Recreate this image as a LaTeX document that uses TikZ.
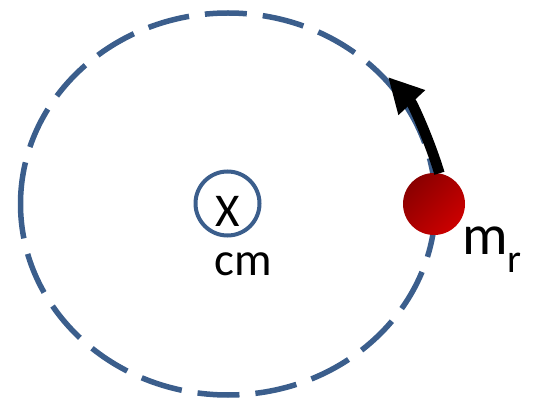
\documentclass[tikz,border=0pt]{standalone}
\usepackage{fontspec}
\setmainfont{Carlito}
\usetikzlibrary{arrows.meta}
\definecolor{orbitblue}{HTML}{3B5E8C}
\definecolor{balldark}{HTML}{8A0000}
\definecolor{balllight}{HTML}{CC0000}
\tikzset{
  orbit/.style={draw=orbitblue, line width=5.5pt, dash pattern=on 42pt off 16pt},
  cmring/.style={circle, draw=orbitblue, line width=4pt, minimum size=64pt, inner sep=0pt},
  lbl/.style={inner sep=0pt, outer sep=0pt, text=black},
  motion/.style={line width=10.5pt, -{Triangle[length=35pt,width=34pt]}}
}
\begin{document}
\begin{tikzpicture}[x=1pt,y=1pt]
\useasboundingbox (0,0) rectangle (540,399);
% dashed orbit, starting at the leftmost point, clockwise
\draw[orbit] (20.5,195) arc[start angle=180, end angle=-180, x radius=207.5, y radius=191];
% centre of mass ring
\node[cmring] (ring) at (227.5,195.5) {};
\node[lbl, anchor=base] (x) at (227.5,172) {\fontsize{47}{47}\selectfont X};
\node[lbl, anchor=base] (cm) at (243.5,124) {\fontsize{47}{47}\selectfont cm};
% ball
\shade[top color=balldark, bottom color=balllight, shading angle=45] (434,195) circle[radius=31];
\node[circle, minimum size=62pt, inner sep=0pt] (ball) at (434,195) {};
\node[lbl, anchor=base west] (mr) at (462,144) {\fontsize{57}{57}\selectfont m\raisebox{-17pt}{\fontsize{40}{40}\selectfont r}};
% motion arrow
\coordinate (tip) at (388,322);
\draw[motion] (ball.80) .. controls (429,260) and (412.5,295.7) .. (tip);
\end{tikzpicture}
\end{document}
